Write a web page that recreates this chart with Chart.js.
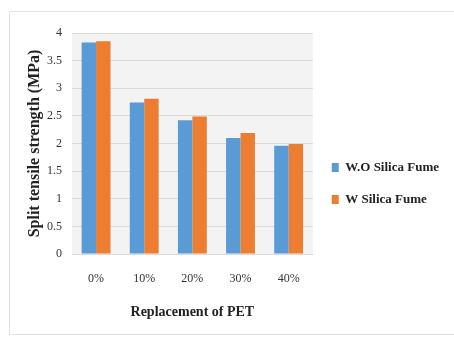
<!DOCTYPE html>
<html>
<head>
<meta charset="utf-8">
<script src="https://cdn.jsdelivr.net/npm/chart.js@4"></script>
<style>
  html, body { margin: 0; padding: 0; background: #fff; }
  #wrap { width: 454px; height: 342px; }
</style>
</head>
<body>
<div id="wrap"><canvas id="splitChart" width="454" height="342"></canvas></div>
<script>
const categories = ['0%', '10%', '20%', '30%', '40%'];
const withoutSilica = [3.83, 2.74, 2.42, 2.10, 1.96];
const withSilica = [3.85, 2.81, 2.49, 2.19, 1.99];
const seriesNames = ['W.O Silica Fume', 'W Silica Fume'];

// grey plot area + thin outer frame, like the Excel export
const backdrop = {
    id: 'backdrop',
    beforeDraw(chart) {
        const c = chart.ctx;
        const a = chart.chartArea;
        c.save();
        c.fillStyle = '#fff';
        c.fillRect(0, 0, chart.width, chart.height);
        c.strokeStyle = '#e3e3e3';
        c.lineWidth = 1;
        c.strokeRect(9.5, 11.5, chart.width, 323);
        c.fillStyle = '#f3f3f3';
        c.fillRect(a.left, a.top, a.right - a.left, a.bottom - a.top);
        c.restore();
    }
};

const serif = 'Liberation Serif';

new Chart(document.getElementById('splitChart').getContext('2d'), {
    type: 'bar',
    data: {
        labels: categories,
        datasets: [
            { label: seriesNames[0], data: withoutSilica, backgroundColor: '#5B9BD5', borderWidth: 0 },
            { label: seriesNames[1], data: withSilica, backgroundColor: '#ED7D31', borderWidth: 0 }
        ]
    },
    options: {
        responsive: false,
        animation: false,
        layout: { padding: { left: 10, top: 33, right: 5, bottom: 8 } },
        datasets: { bar: { categoryPercentage: 0.6, barPercentage: 1.0 } },
        scales: {
            x: {
                grid: { display: false },
                border: { display: true, color: '#d9d9d9' },
                ticks: { color: '#333', font: { family: serif, size: 12 }, padding: 10 },
                title: { display: true, text: 'Replacement of PET', color: '#222',
                         font: { family: serif, size: 14, weight: 'bold' }, padding: { top: 10, bottom: 13 } },
                afterFit(s) { s.height = 80; }
            },
            y: {
                min: 0, max: 4,
                ticks: {
                    stepSize: 0.5, color: '#333', font: { family: serif, size: 12 }, padding: 10,
                    callback: v => String(v)
                },
                grid: { color: '#d9d9d9', drawTicks: false },
                border: { display: false },
                title: { display: true, text: 'Split tensile strength (MPa)', color: '#222',
                         font: { family: serif, size: 16, weight: 'bold' }, padding: { top: 15, bottom: 4 } },
                afterFit(s) { s.width = 62; }
            }
        },
        plugins: {
            legend: {
                position: 'right',
                maxWidth: 140,
                labels: {
                    boxWidth: 7,
                    boxHeight: 9,
                    padding: 19,
                    color: '#222',
                    font: { family: serif, size: 13, weight: 'bold' }
                }
            },
            tooltip: { enabled: false }
        }
    },
    plugins: [backdrop]
});
</script>
</body>
</html>
